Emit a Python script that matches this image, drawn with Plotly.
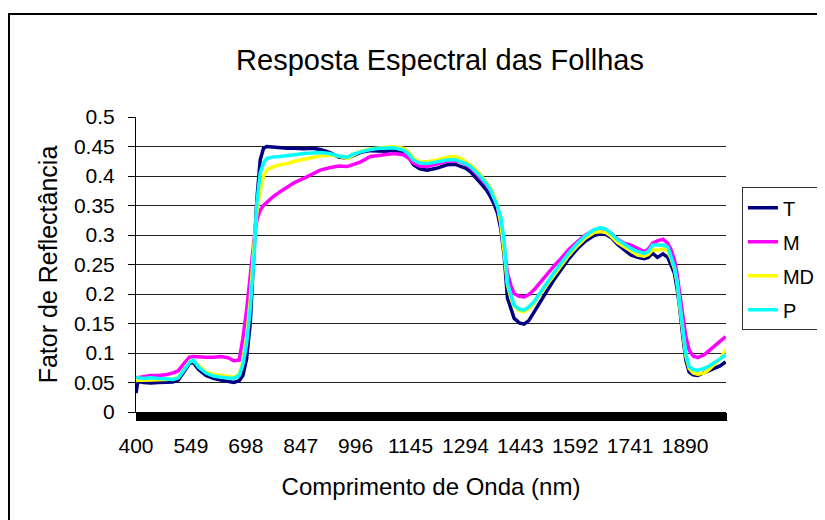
import plotly.graph_objects as go

wavelength = [400, 405, 420, 440, 460, 480, 500, 515, 530, 545, 555, 570, 590, 610, 630, 650, 665, 680, 690, 700,
              710, 720, 728, 737, 746, 755, 770, 790, 810, 830, 855, 880, 900, 925, 950, 973, 990, 1010, 1036, 1060,
              1080, 1100, 1126, 1140, 1153, 1170, 1190, 1215, 1244, 1265, 1281, 1295, 1308, 1322, 1335, 1350, 1362,
              1372, 1381, 1390, 1399, 1408, 1418, 1426, 1440, 1453, 1466, 1480, 1500, 1517, 1535, 1553, 1575, 1598,
              1620, 1643, 1660, 1675, 1689, 1707, 1725, 1743, 1761, 1779, 1790, 1802, 1815, 1830, 1843, 1852, 1861,
              1868, 1874, 1883, 1892, 1901, 1912, 1924, 1942, 1955, 1969, 1985, 2000]

T = [0.032, 0.052, 0.050, 0.049, 0.050, 0.050, 0.051, 0.054, 0.067, 0.082, 0.084, 0.072, 0.062, 0.057, 0.054, 0.051,
     0.050, 0.053, 0.062, 0.090, 0.150, 0.270, 0.360, 0.427, 0.447, 0.450, 0.449, 0.448, 0.447, 0.447, 0.446, 0.447,
     0.445, 0.440, 0.432, 0.430, 0.435, 0.440, 0.443, 0.442, 0.442, 0.444, 0.440, 0.432, 0.419, 0.412, 0.410, 0.413,
     0.419, 0.420, 0.417, 0.413, 0.407, 0.398, 0.388, 0.377, 0.365, 0.352, 0.337, 0.310, 0.265, 0.193, 0.172, 0.159,
     0.151, 0.149, 0.155, 0.170, 0.190, 0.207, 0.225, 0.241, 0.260, 0.277, 0.290, 0.299, 0.302, 0.301, 0.296, 0.284,
     0.275, 0.266, 0.262, 0.260, 0.262, 0.269, 0.262, 0.268, 0.262, 0.250, 0.235, 0.210, 0.184, 0.133, 0.088, 0.068,
     0.063, 0.062, 0.066, 0.070, 0.074, 0.078, 0.085]

M = [0.058, 0.058, 0.060, 0.062, 0.062, 0.063, 0.066, 0.070, 0.082, 0.093, 0.094, 0.093, 0.093, 0.093, 0.094, 0.092,
     0.087, 0.088, 0.125, 0.172, 0.235, 0.290, 0.325, 0.342, 0.350, 0.356, 0.364, 0.373, 0.381, 0.389, 0.396, 0.403,
     0.410, 0.414, 0.417, 0.416, 0.420, 0.424, 0.433, 0.435, 0.437, 0.438, 0.436, 0.430, 0.422, 0.417, 0.416, 0.420,
     0.425, 0.426, 0.424, 0.420, 0.414, 0.405, 0.397, 0.386, 0.375, 0.362, 0.348, 0.320, 0.275, 0.235, 0.213, 0.201,
     0.196, 0.195, 0.199, 0.207, 0.222, 0.235, 0.248, 0.260, 0.276, 0.289, 0.300, 0.308, 0.310, 0.308, 0.303, 0.293,
     0.286, 0.283, 0.278, 0.272, 0.276, 0.286, 0.290, 0.293, 0.286, 0.275, 0.258, 0.235, 0.207, 0.162, 0.128, 0.105,
     0.095, 0.092, 0.097, 0.104, 0.111, 0.120, 0.128]

MD = [0.053, 0.054, 0.054, 0.054, 0.055, 0.055, 0.056, 0.059, 0.072, 0.085, 0.087, 0.078, 0.068, 0.064, 0.062, 0.060,
      0.059, 0.064, 0.085, 0.125, 0.190, 0.280, 0.340, 0.375, 0.400, 0.410, 0.415, 0.419, 0.421, 0.425, 0.428, 0.431,
      0.434, 0.435, 0.434, 0.430, 0.436, 0.442, 0.446, 0.448, 0.449, 0.450, 0.447, 0.440, 0.430, 0.424, 0.424, 0.427,
      0.432, 0.433, 0.430, 0.425, 0.419, 0.411, 0.402, 0.390, 0.379, 0.366, 0.350, 0.320, 0.272, 0.215, 0.192, 0.179,
      0.172, 0.170, 0.175, 0.185, 0.203, 0.217, 0.233, 0.248, 0.266, 0.282, 0.295, 0.304, 0.306, 0.304, 0.298, 0.287,
      0.280, 0.272, 0.266, 0.264, 0.267, 0.275, 0.274, 0.277, 0.272, 0.260, 0.243, 0.220, 0.190, 0.140, 0.095, 0.074,
      0.066, 0.064, 0.066, 0.072, 0.080, 0.090, 0.105]

P = [0.060, 0.058, 0.057, 0.058, 0.057, 0.056, 0.055, 0.058, 0.070, 0.084, 0.088, 0.076, 0.066, 0.061, 0.059, 0.058,
     0.057, 0.062, 0.080, 0.115, 0.175, 0.260, 0.355, 0.405, 0.422, 0.430, 0.432, 0.433, 0.434, 0.436, 0.438, 0.439,
     0.440, 0.438, 0.434, 0.432, 0.437, 0.441, 0.445, 0.447, 0.448, 0.448, 0.444, 0.437, 0.427, 0.422, 0.421, 0.424,
     0.427, 0.428, 0.425, 0.421, 0.416, 0.408, 0.399, 0.388, 0.376, 0.362, 0.348, 0.330, 0.290, 0.218, 0.195, 0.181,
     0.174, 0.173, 0.178, 0.187, 0.205, 0.221, 0.237, 0.252, 0.270, 0.286, 0.299, 0.309, 0.312, 0.310, 0.303, 0.292,
     0.285, 0.277, 0.272, 0.269, 0.272, 0.283, 0.283, 0.283, 0.280, 0.265, 0.246, 0.222, 0.190, 0.145, 0.099, 0.077,
     0.072, 0.071, 0.074, 0.078, 0.083, 0.090, 0.097]

series_names = ["T", "M", "MD", "P"]
series_values = [T, M, MD, P]
series_colors = ["#000080", "#FF00FF", "#FFFF00", "#00FFFF"]

x_tick_vals = [400, 549, 698, 847, 996, 1145, 1294, 1443, 1592, 1741, 1890]
x_tick_text = [str(v) for v in x_tick_vals]

FONT = "Liberation Sans, Arial, sans-serif"

fig = go.Figure()
for name, vals, col in zip(series_names, series_values, series_colors):
    fig.add_trace(go.Scatter(x=wavelength, y=vals, mode="lines", name=name, legendgroup=name,
                             line=dict(color=col, width=3.5)))

fig.update_layout(
    width=825, height=520,
    margin=dict(l=128, r=107, t=109, b=116, autoexpand=False),
    paper_bgcolor="white", plot_bgcolor="white",
    font=dict(family=FONT, color="black", size=21),
    title=dict(text="Resposta Espectral das Follhas", x=432 / 825, xanchor="center",
               y=1 - 52 / 520, yanchor="middle", font=dict(size=29, family=FONT, color="black")),
    showlegend=True,
    legend=dict(x=1.027, xanchor="left", y=0.762, yanchor="top", bordercolor="#333333", borderwidth=1,
                font=dict(size=20, family=FONT), tracegroupgap=5, bgcolor="white", itemwidth=30),
    shapes=[dict(type="rect", xref="paper", yref="paper", x0=-0.2153, x1=1.4, y0=-0.6, y1=1.349,
                 line=dict(color="black", width=2), fillcolor="rgba(0,0,0,0)", layer="below")],
)

fig.update_xaxes(
    range=[400, 2001], tickmode="array", tickvals=x_tick_vals, ticktext=x_tick_text,
    ticks="outside", ticklen=8, tickcolor="black", tickwidth=1, automargin=False,
    tickfont=dict(size=21, family=FONT), ticklabelstandoff=7,
    showgrid=False, zeroline=False, showline=True, linecolor="black", linewidth=1,
    minor=dict(ticks="outside", ticklen=8, tickcolor="black", tickwidth=1, tickmode="linear",
               tick0=400, dtick=1, showgrid=False),
    title=dict(text="Comprimento de Onda (nm)", font=dict(size=24, family=FONT), standoff=21),
)

fig.update_yaxes(
    range=[0, 0.5], dtick=0.05, tick0=0, automargin=False,
    ticks="outside", ticklen=7, tickcolor="black", tickwidth=1,
    tickfont=dict(size=21, family=FONT), ticklabelstandoff=9,
    showgrid=True, gridcolor="#222222", gridwidth=1, zeroline=False,
    showline=True, linecolor="black", linewidth=1,
    title=dict(text="Fator de Reflectância", font=dict(size=25, family=FONT), standoff=9),
)

fig.write_html("out.html")
